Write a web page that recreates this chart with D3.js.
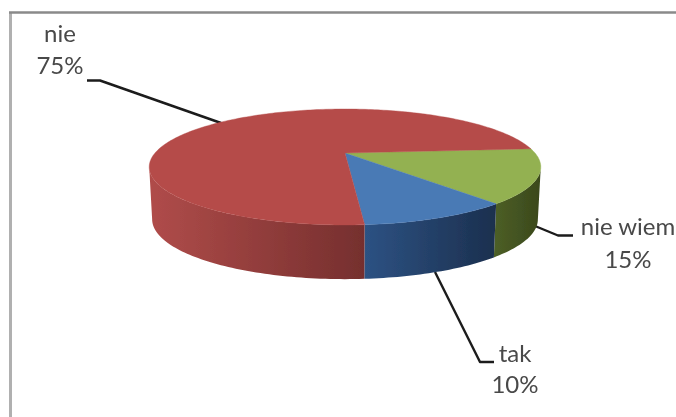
<!DOCTYPE html>
<html><head><meta charset="utf-8">
<script src="https://cdn.jsdelivr.net/npm/d3@7"></script>
<style>html,body{margin:0;padding:0;background:#fff}svg{display:block}</style>
</head><body><svg id="c" width="676" height="417"></svg>
<script>
const categories = ["nie wiem", "tak", "nie"];
const values = [15, 10, 75];
const percentLabels = ["15%", "10%", "75%"];
const topColors = ["#93b151", "#4a7ab5", "#b54c4a"];
const sideLight = ["#4d5f26", "#2d5283", "#b04c4a"];
const sideDark = ["#3a481c", "#1b2f4e", "#752f2e"];

const svg = d3.select("#c");
const defs = svg.append("defs");
defs.append("filter").attr("id","soft").attr("filterUnits","userSpaceOnUse").attr("x",0).attr("y",0).attr("width",676).attr("height",417)
  .append("feGaussianBlur").attr("stdDeviation",0.7);
defs.append("filter").attr("id","softText").attr("filterUnits","userSpaceOnUse").attr("x",0).attr("y",0).attr("width",676).attr("height",417)
  .append("feGaussianBlur").attr("stdDeviation",0.55);

// frame
const frame = svg.append("g").attr("filter","url(#soft)").attr("fill","none");
frame.append("path").attr("d","M10.5,12V417").attr("stroke","#b0b0b0").attr("stroke-width",3);
frame.append("path").attr("d","M9,12.5H676").attr("stroke","#8a8a8a").attr("stroke-width",2.4);

// perspective projection of the pie disc
const cx = 345, cy = 153, rx0 = 190, ry0 = 54.6, p = 0.2414;
function topPoint(a){const u=Math.sin(a), v=-Math.cos(a), w=1-p*v; return [cx+rx0*u/w, cy+ry0*v/w];}
function bottomPoint(a){const u=Math.sin(a), v=-Math.cos(a), w=1-p*v; return [cx+0.985*rx0*u/w, cy+52+1.03*ry0*v/w];}
function samples(a0,a1){const n=Math.max(2,Math.ceil(Math.abs(a1-a0)/0.02)); return d3.range(n+1).map(i=>a0+(a1-a0)*i/n);}

const startAngle = 85.5*Math.PI/180;
const arcs = d3.pie().sort(null).startAngle(startAngle).endAngle(startAngle+2*Math.PI)(values);
const lineGen = d3.line().curve(d3.curveLinear);

// leader lines, behind the pie
const leaders = [
  [[535,226],[558,235.5],[573,235.5]],
  [[435,272],[480,362],[494,362]],
  [[221,123],[100,80.5],[87,80.5]]
];
const lg = svg.append("g").attr("filter","url(#soft)");
leaders.forEach(l=>lg.append("path").attr("d",lineGen(l)).attr("fill","none").attr("stroke","#1a1a1a").attr("stroke-width",2.4).attr("stroke-linejoin","round"));

const pie = svg.append("g").attr("filter","url(#soft)");
const sideStart = Math.PI - Math.acos(p), sideEnd = Math.PI + Math.acos(p);
arcs.forEach((d,i)=>{
  const a0=Math.max(d.startAngle,sideStart), a1=Math.min(d.endAngle,sideEnd);
  if(a1<=a0) return;
  const pts=samples(a0,a1);
  const poly=pts.map(topPoint).concat(pts.slice().reverse().map(bottomPoint));
  const id="side"+i;
  const gr=defs.append("linearGradient").attr("id",id).attr("x1",0).attr("x2",1).attr("y1",0).attr("y2",0);
  gr.append("stop").attr("offset",0).attr("stop-color",sideLight[i]);
  gr.append("stop").attr("offset",1).attr("stop-color",sideDark[i]);
  pie.append("path").attr("d",lineGen(poly)+"Z").attr("fill","url(#"+id+")");
});
arcs.forEach((d,i)=>{
  const pts=samples(d.startAngle,d.endAngle).map(topPoint);
  pie.append("path").attr("d",lineGen([[cx,cy]].concat(pts))+"Z").attr("fill",topColors[i]).attr("stroke",topColors[i]).attr("stroke-width",0.4);
});

// labels
const labelPos = [[628,[235,268]],[515,[362,393]],[60,[42,74]]];
const tg = svg.append("g").attr("filter","url(#softText)").attr("font-family","Lato, sans-serif").attr("font-size",24).attr("fill","#484848").attr("text-anchor","middle");
categories.forEach((c,i)=>{
  tg.append("text").attr("x",labelPos[i][0]).attr("y",labelPos[i][1][0]).text(c);
  tg.append("text").attr("x",labelPos[i][0]).attr("y",labelPos[i][1][1]).text(percentLabels[i]);
});
</script></body></html>
